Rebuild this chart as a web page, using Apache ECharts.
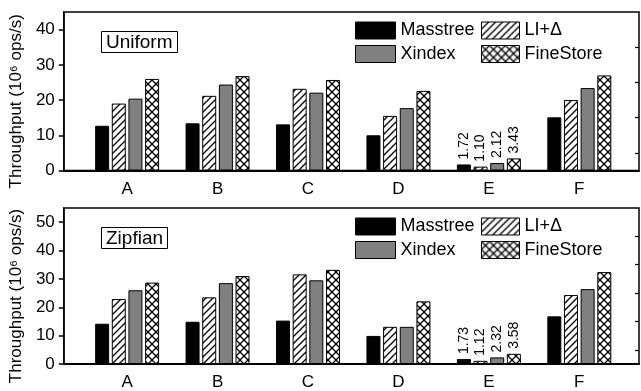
<!DOCTYPE html>
<html><head><meta charset="utf-8">
<script src="https://cdn.jsdelivr.net/npm/echarts@6/dist/echarts.min.js"></script>
<style>html,body{margin:0;padding:0;background:#fff}#c{width:641px;height:391px}</style>
</head><body><div id="c"></div>
<script>
const categories = ['A', 'B', 'C', 'D', 'E', 'F'];
const seriesNames = ['Masstree', 'LI+Δ', 'Xindex', 'FineStore'];
const panelTitles = ['Uniform', 'Zipfian'];

const uniformMasstree  = [12.7, 13.4, 13.1, 10.0, 1.72, 15.1];
const uniformLI        = [19.0, 21.2, 23.2, 15.5, 1.10, 20.0];
const uniformXindex    = [20.4, 24.4, 22.1, 17.7, 2.12, 23.4];
const uniformFineStore = [26.0, 26.8, 25.7, 22.6, 3.43, 27.0];

const zipfMasstree  = [14.2, 14.9, 15.3, 9.9, 1.73, 16.8];
const zipfLI        = [22.9, 23.5, 31.6, 13.1, 1.12, 24.3];
const zipfXindex    = [26.0, 28.5, 29.5, 13.1, 2.32, 26.4];
const zipfFineStore = [28.7, 31.0, 33.2, 22.1, 3.58, 32.4];

const labeledCategory = 'E';

const uniformMajorTicks = [0, 10, 20, 30, 40];
const uniformMinorTicks = [5, 15, 25, 35];
const zipfMajorTicks = [0, 10, 20, 30, 40, 50];
const zipfMinorTicks = [5, 15, 25, 35, 45];
const uniformMax = 45;
const zipfMax = 55;
const categoryPositions = [1, 2, 3, 4, 5, 6];

function hatch() {
  const s = 7, c = document.createElement('canvas'); c.width = s; c.height = s;
  const g = c.getContext('2d');
  g.fillStyle = '#fff'; g.fillRect(0, 0, s, s);
  g.strokeStyle = '#000'; g.lineWidth = 1.3;
  g.beginPath();
  g.moveTo(0, s); g.lineTo(s, 0);
  g.moveTo(-1, 1); g.lineTo(1, -1);
  g.moveTo(s - 1, s + 1); g.lineTo(s + 1, s - 1);
  g.stroke();
  return c;
}
function cross() {
  const s = 8, c = document.createElement('canvas'); c.width = s; c.height = s;
  const g = c.getContext('2d');
  g.fillStyle = '#fff'; g.fillRect(0, 0, s, s);
  g.strokeStyle = '#000'; g.lineWidth = 1.3;
  g.beginPath();
  g.moveTo(0, 0); g.lineTo(s, s);
  g.moveTo(0, s); g.lineTo(s, 0);
  g.stroke();
  return c;
}
const fills = ['#000000', { image: hatch(), repeat: 'repeat' }, '#808080', { image: cross(), repeat: 'repeat' }];

const panels = [
  { values: [uniformMasstree, uniformLI, uniformXindex, uniformFineStore], max: uniformMax, major: uniformMajorTicks, minor: uniformMinorTicks, top: 12, height: 158.5 },
  { values: [zipfMasstree, zipfLI, zipfXindex, zipfFineStore], max: zipfMax, major: zipfMajorTicks, minor: zipfMinorTicks, top: 208, height: 159.3 }
];

const FONT = 'Liberation Sans, Arial, sans-serif';
const grid = [], xAxis = [], yAxis = [], series = [], legend = [], title = [];

panels.forEach((p, pi) => {
  grid.push({ left: 61, right: 2, top: p.top, height: p.height, show: true, borderColor: '#000', borderWidth: 1.5, containLabel: false });
  xAxis.push({
    type: 'value', gridIndex: pi, min: 0.3, max: 6.66,
    axisLine: { show: true, onZero: false, lineStyle: { color: '#000', width: 2 } },
    axisTick: { show: false }, splitLine: { show: false },
    axisLabel: { customValues: categoryPositions, formatter: v => categories[Math.round(v) - 1] || '', color: '#000', fontSize: 17, margin: 10, fontFamily: FONT }
  });
  yAxis.push({
    type: 'value', gridIndex: pi, min: 0, max: p.max,
    name: 'Throughput (10⁶ ops/s)', nameLocation: 'middle', nameGap: 36,
    nameTextStyle: { fontSize: 17, color: '#000', fontFamily: FONT, padding: [0, 20, 0, 0] },
    axisLine: { show: true, lineStyle: { color: '#000', width: 1.5 } },
    axisTick: { show: true, length: 5, lineStyle: { color: '#000', width: 1.5 }, customValues: p.major },
    axisLabel: { color: '#000', fontSize: 17, margin: 9, fontFamily: FONT, customValues: p.major },
    splitLine: { show: false }
  });
  yAxis.push({
    type: 'value', gridIndex: pi, min: 0, max: p.max,
    axisLine: { show: false }, axisLabel: { show: false }, splitLine: { show: false },
    axisTick: { show: true, inside: true, length: 4, lineStyle: { color: '#000', width: 1.2 }, customValues: p.minor }
  });
  p.values.forEach((vals, si) => {
    series.push({
      type: 'bar', name: seriesNames[si], xAxisIndex: pi, yAxisIndex: pi * 2,
      barWidth: 14, barGap: '19%',
      itemStyle: { color: fills[si], borderColor: '#000', borderWidth: 1 },
      label: {
        show: false, position: 'top', rotate: 90, align: 'left', verticalAlign: 'middle', distance: 5,
        fontSize: 14, color: '#000', fontFamily: FONT,
        formatter: prm => prm.value[1].toFixed(2)
      },
      data: vals.map((v, i) => ({ value: [categoryPositions[i], v], label: { show: categories[i] === labeledCategory } }))
    });
  });
  const legTop = p.top + 9.5;
  const legCommon = { orient: 'vertical', top: legTop, itemHeight: 17, itemGap: 5.5, padding: 0, selectedMode: false, icon: 'rect',
    textStyle: { fontSize: 18, color: '#000', fontFamily: FONT }, itemStyle: { borderColor: '#000', borderWidth: 1 } };
  legend.push(Object.assign({}, legCommon, { left: 355, itemWidth: 40, data: [seriesNames[0], seriesNames[2]] }));
  legend.push(Object.assign({}, legCommon, { left: 481, itemWidth: 38, data: [seriesNames[1], seriesNames[3]] }));
  title.push({ text: panelTitles[pi], left: 101, top: p.top + 19, padding: [2, 5, 1, 5], borderColor: '#000', borderWidth: 1,
    textStyle: { fontSize: 19, fontWeight: 'normal', color: '#000', fontFamily: FONT } });
});

const chart = echarts.init(document.getElementById('c'), null, { renderer: 'canvas' });
chart.setOption({ animation: false, backgroundColor: '#fff', textStyle: { fontFamily: FONT }, title, legend, grid, xAxis, yAxis, series });
</script></body></html>
